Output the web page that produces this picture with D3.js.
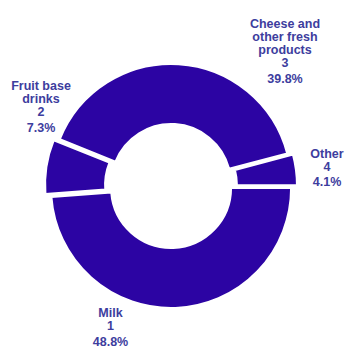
<!DOCTYPE html>
<html>
<head>
<meta charset="utf-8">
<script src="https://cdn.jsdelivr.net/npm/d3@7"></script>
<style>
  html, body { margin: 0; padding: 0; background: #fff; }
  svg { display: block; }
</style>
</head>
<body>
<svg id="chart" width="345" height="347"></svg>
<script>
// ---- data ----
const categories = ["Milk", "Fruit base drinks", "Cheese and other fresh products", "Other"];
const ids = [1, 2, 3, 4];
const percents = [48.8, 7.3, 39.8, 4.1];
const nameLines = [["Milk"], ["Fruit base", "drinks"], ["Cheese and", "other fresh", "products"], ["Other"]];

// ---- layout / style ----
const W = 345, H = 347;
const cx = 171, cy = 186;
const outerR = 120, innerR = 60;
const explode = [2, 6, 2, 6];
const sliceColor = "#2c04a3";
const textColor = "#3d3d9e";
const labelAnchors = [[110.5, 317], [41, 90], [285, 28], [327, 157.8]];
const lineStep = 13, pctStep = 15.5;

const data = categories.map((c, i) => ({ name: c, id: ids[i], pct: percents[i], lines: nameLines[i], i }));

const svg = d3.select("#chart");
const g = svg.append("g").attr("transform", `translate(${cx},${cy})`);

const pie = d3.pie().sort(null).value(d => d.pct)
  .startAngle(Math.PI / 2).endAngle(Math.PI / 2 + 2 * Math.PI);
const arc = d3.arc().innerRadius(innerR).outerRadius(outerR);

const arcs = pie(data);
g.selectAll("path.slice").data(arcs).enter().append("path")
  .attr("class", "slice")
  .attr("d", arc)
  .attr("fill", sliceColor)
  .attr("stroke", "#fff")
  .attr("stroke-width", 2)
  .attr("transform", d => {
    const mid = (d.startAngle + d.endAngle) / 2;
    const k = explode[d.data.i];
    return `translate(${k * Math.sin(mid)},${-k * Math.cos(mid)})`;
  });

const labels = svg.selectAll("text.lbl").data(data).enter().append("text")
  .attr("class", "lbl")
  .attr("text-anchor", "middle")
  .attr("font-family", "'Liberation Sans', Arial, sans-serif")
  .attr("font-weight", "bold")
  .attr("font-size", "12.5px")
  .attr("fill", textColor);

labels.each(function (d) {
  const [x, y] = labelAnchors[d.i];
  const t = d3.select(this);
  const rows = d.lines.concat([String(d.id)]);
  rows.forEach((r, j) => {
    t.append("tspan").attr("x", x).attr("y", y + j * lineStep).text(r);
  });
  t.append("tspan").attr("x", x).attr("y", y + (rows.length - 1) * lineStep + pctStep)
    .text(d.pct.toFixed(1) + "%");
});
</script>
</body>
</html>
